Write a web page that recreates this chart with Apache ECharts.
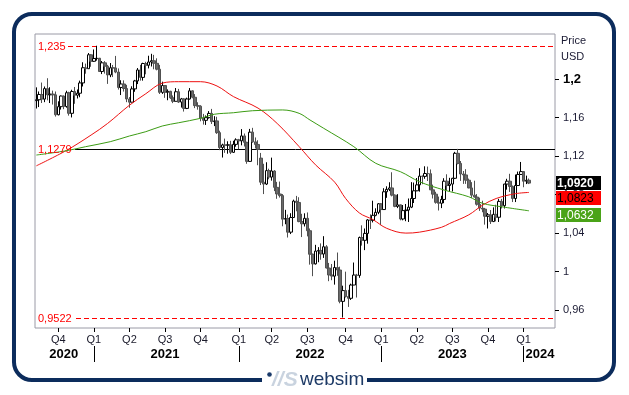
<!DOCTYPE html>
<html>
<head>
<meta charset="utf-8">
<script src="https://cdn.jsdelivr.net/npm/echarts@6/dist/echarts.min.js"></script>
<style>html,body{margin:0;padding:0;background:#fff;}#c{width:629px;height:395px;}</style>
</head>
<body>
<div id="c"></div>
<script>
// ---- data (weekly EUR/USD candles, week starting 2020-08-03) ----
const weekOpen = [1.1778,1.1787,1.1842,1.1794,1.1903,1.1838,1.1846,1.1838,1.1631,1.1715,1.1826,1.1717,1.1860,1.1646,1.1873,1.1834,1.1855,1.1962,1.2120,1.2110,1.2255,1.2187,1.2216,1.2219,1.2081,1.2171,1.2136,1.2045,1.2119,1.2118,1.2075,1.1915,1.1951,1.1904,1.1795,1.1762,1.1900,1.1983,1.2097,1.2020,1.2164,1.2146,1.2180,1.2193,1.2166,1.2105,1.1864,1.1935,1.1865,1.1875,1.1807,1.1771,1.1870,1.1763,1.1796,1.1697,1.1795,1.1880,1.1813,1.1726,1.1720,1.1596,1.1573,1.1601,1.1645,1.1560,1.1567,1.1445,1.1290,1.1317,1.1315,1.1318,1.1240,1.1323,1.1370,1.1360,1.1411,1.1344,1.1146,1.1450,1.1349,1.1322,1.1180,1.0930,1.0910,1.1050,1.0983,1.1046,1.0876,1.0807,1.0790,1.0545,1.0552,1.0410,1.0562,1.0733,1.0719,1.0520,1.0497,1.0554,1.0425,1.0180,1.0080,1.0213,1.0220,1.0183,1.0258,1.0037,0.9964,0.9953,1.0042,1.0016,0.9690,0.9802,0.9740,0.9722,0.9860,0.9964,0.9960,1.0354,1.0325,1.0397,1.0537,1.0533,1.0585,1.0616,1.0705,1.0645,1.0830,1.0855,1.0870,1.0795,1.0678,1.0694,1.0547,1.0634,1.0640,1.0670,1.0760,1.0840,1.0902,1.0993,1.0990,1.1020,1.1018,1.0850,1.0805,1.0720,1.0710,1.0750,1.0940,1.0895,1.0910,1.0970,1.1230,1.1125,1.1015,1.1005,1.0950,1.0870,1.0795,1.0775,1.0700,1.0660,1.0650,1.0575,1.0590,1.0520,1.0595,1.0565,1.0730,1.0685,1.0910,1.0940,1.0885,1.0760,1.0895,1.1010,1.1040,1.0940,1.0950];
const weekClose = [1.1787,1.1842,1.1794,1.1903,1.1838,1.1846,1.1838,1.1631,1.1715,1.1826,1.1717,1.1860,1.1646,1.1873,1.1834,1.1855,1.1962,1.2120,1.2110,1.2255,1.2187,1.2216,1.2219,1.2081,1.2171,1.2136,1.2045,1.2119,1.2118,1.2075,1.1915,1.1951,1.1904,1.1795,1.1762,1.1900,1.1983,1.2097,1.2020,1.2164,1.2146,1.2180,1.2193,1.2166,1.2105,1.1864,1.1935,1.1865,1.1875,1.1807,1.1771,1.1870,1.1763,1.1796,1.1697,1.1795,1.1880,1.1813,1.1726,1.1720,1.1596,1.1573,1.1601,1.1645,1.1560,1.1567,1.1445,1.1290,1.1317,1.1315,1.1318,1.1240,1.1323,1.1370,1.1360,1.1411,1.1344,1.1146,1.1450,1.1349,1.1322,1.1270,1.0930,1.0910,1.1050,1.0983,1.1046,1.0876,1.0807,1.0790,1.0545,1.0552,1.0410,1.0562,1.0733,1.0719,1.0520,1.0497,1.0554,1.0425,1.0180,1.0080,1.0213,1.0220,1.0183,1.0258,1.0037,0.9964,0.9953,1.0042,1.0016,0.9690,0.9802,0.9740,0.9722,0.9860,0.9964,0.9960,1.0354,1.0325,1.0397,1.0537,1.0533,1.0585,1.0616,1.0705,1.0645,1.0830,1.0855,1.0870,1.0795,1.0678,1.0694,1.0547,1.0634,1.0640,1.0670,1.0760,1.0840,1.0902,1.0993,1.0990,1.1020,1.1018,1.0850,1.0805,1.0720,1.0710,1.0750,1.0940,1.0895,1.0910,1.0970,1.1230,1.1125,1.1015,1.1005,1.0950,1.0870,1.0795,1.0775,1.0700,1.0660,1.0650,1.0575,1.0590,1.0520,1.0595,1.0565,1.0730,1.0685,1.0910,1.0940,1.0885,1.0760,1.0895,1.1010,1.1040,1.0940,1.0950,1.0920];
const weekLow = [1.1696,1.1711,1.1753,1.1762,1.1781,1.1753,1.1737,1.1612,1.1625,1.1685,1.1689,1.1705,1.1622,1.1603,1.1745,1.1800,1.1813,1.1925,1.2058,1.2110,1.2130,1.2180,1.2194,1.2076,1.2054,1.2059,1.1952,1.2022,1.2023,1.2063,1.1893,1.1836,1.1872,1.1762,1.1704,1.1760,1.1870,1.1950,1.1986,1.1986,1.2052,1.2113,1.2133,1.2104,1.2093,1.1847,1.1848,1.1807,1.1782,1.1796,1.1752,1.1770,1.1754,1.1706,1.1664,1.1690,1.1790,1.1802,1.1700,1.1684,1.1563,1.1529,1.1525,1.1591,1.1535,1.1513,1.1432,1.1263,1.1186,1.1235,1.1226,1.1222,1.1234,1.1299,1.1272,1.1313,1.1301,1.1121,1.1140,1.1340,1.1280,1.1106,1.0900,1.0806,1.0900,1.0960,1.0946,1.0837,1.0757,1.0770,1.0471,1.0492,1.0354,1.0390,1.0558,1.0627,1.0513,1.0359,1.0469,1.0366,1.0072,0.9952,1.0073,1.0097,1.0123,1.0142,1.0033,0.9900,0.9910,0.9864,0.9956,0.9670,0.9522,0.9730,0.9632,0.9705,0.9858,0.9730,0.9935,1.0270,1.0223,1.0290,1.0443,1.0511,1.0575,1.0597,1.0483,1.0643,1.0767,1.0837,1.0782,1.0669,1.0660,1.0533,1.0533,1.0524,1.0516,1.0660,1.0713,1.0836,1.0831,1.0909,1.0965,1.0942,1.0848,1.0760,1.0706,1.0635,1.0660,1.0711,1.0844,1.0834,1.0833,1.0962,1.1115,1.0943,1.0912,1.0912,1.0866,1.0766,1.0770,1.0686,1.0631,1.0617,1.0488,1.0448,1.0495,1.0515,1.0522,1.0516,1.0656,1.0656,1.0852,1.0828,1.0723,1.0723,1.0890,1.1005,1.0877,1.0910,1.0910];
const weekHigh = [1.1916,1.1873,1.1966,1.1925,1.2011,1.1917,1.1882,1.1873,1.1771,1.1831,1.1830,1.1881,1.1870,1.1891,1.1920,1.1894,1.1986,1.2177,1.2163,1.2273,1.2262,1.2310,1.2349,1.2222,1.2190,1.2189,1.2150,1.2169,1.2149,1.2243,1.2113,1.1990,1.1989,1.1942,1.1815,1.1927,1.1994,1.2117,1.2150,1.2172,1.2182,1.2245,1.2265,1.2254,1.2218,1.2150,1.1975,1.1940,1.1895,1.1880,1.1832,1.1909,1.1900,1.1806,1.1804,1.1809,1.1909,1.1885,1.1846,1.1761,1.1730,1.1640,1.1624,1.1669,1.1692,1.1616,1.1610,1.1465,1.1330,1.1383,1.1355,1.1360,1.1360,1.1386,1.1380,1.1482,1.1436,1.1350,1.1484,1.1495,1.1395,1.1366,1.1234,1.1121,1.1137,1.1070,1.1185,1.1055,1.0933,1.0936,1.0806,1.0642,1.0593,1.0607,1.0748,1.0787,1.0773,1.0601,1.0606,1.0615,1.0448,1.0187,1.0278,1.0254,1.0293,1.0368,1.0275,1.0090,1.0079,1.0113,1.0198,1.0051,0.9853,0.9999,0.9810,0.9874,1.0094,0.9976,1.0364,1.0481,1.0448,1.0545,1.0595,1.0737,1.0658,1.0713,1.0713,1.0867,1.0887,1.0929,1.1033,1.0803,1.0805,1.0696,1.0692,1.0703,1.0760,1.0930,1.0926,1.0973,1.1075,1.0998,1.1095,1.1092,1.1062,1.0904,1.0830,1.0780,1.0788,1.0971,1.1012,1.0975,1.0975,1.1245,1.1276,1.1150,1.1046,1.1065,1.0967,1.0930,1.0945,1.0806,1.0769,1.0737,1.0662,1.0609,1.0640,1.0668,1.0695,1.0756,1.0756,1.0913,1.0965,1.1017,1.0895,1.1009,1.1040,1.1140,1.1046,1.0998,1.0968];
// moving averages: [week index, value]
const maRed = [[0,1.110],[11,1.126],[20,1.142],[26,1.154],[34,1.173],[40,1.185],[46,1.196],[52,1.1975],[60,1.1975],[66,1.193],[72,1.182],[81,1.170],[88,1.154],[96,1.130],[102,1.111],[109,1.093],[113,1.076],[118,1.061],[123,1.054],[128,1.045],[135,1.040],[140,1.041],[148,1.046],[151,1.050],[158,1.059],[163,1.069],[168,1.076],[175,1.081],[180,1.0823]];
const maGreen = [[0,1.1212],[11,1.1257],[18,1.1299],[27,1.1351],[34,1.1410],[40,1.1455],[46,1.1514],[52,1.1548],[60,1.1594],[65,1.1636],[72,1.1652],[79,1.1673],[90,1.1681],[96,1.1646],[100,1.1576],[105,1.1490],[116,1.1299],[124,1.1126],[133,1.1039],[140,1.0934],[149,1.0848],[158,1.0778],[163,1.0710],[170,1.0674],[180,1.0632]];
const refLevels = [1.235, 1.1279, 0.9522];
const yTickValues = [0.96, 1.0, 1.04, 1.08, 1.12, 1.16, 1.2];
const yearLabels = ['2020','2021','2022','2023','2024'];
const lastPrice = 1.0920, lastRed = 1.0823, lastGreen = 1.0632;

// ---- categories: weeks ----
const N = 190;
const DAY = 864e5;
const start = Date.UTC(2020,7,3);
const categories = [];
for (let i = 0; i < N; i++) categories.push(new Date(start + i*7*DAY).toISOString().slice(0,10));

const fri0 = start + 4*DAY;
const qLabel = {}; const yearSep = [];
for (let y = 2020; y <= 2024; y++) for (let q = 0; q < 4; q++) {
  const s = Date.UTC(y, q*3, 1);
  const i = Math.ceil((s - fri0) / (7*DAY));
  if (i >= 1 && i < N) { qLabel[i] = 'Q' + (q+1); if (q === 0) yearSep.push(i); }
}
const yearAt = {};
yearLabels.forEach((t, k) => {
  const left = k === 0 ? -0.5 : yearSep[k-1];
  const right = k < yearSep.length ? yearSep[k] : N - 0.5;
  yearAt[Math.floor((left + right) / 2 + 0.3)] = t;
});
const sepSet = new Set(yearSep);

const candles = weekOpen.map((o, i) => [o, weekClose[i], weekLow[i], weekHigh[i]]);
const fmt = v => String(v).replace('.', ',');
const FONT = '"Liberation Sans", Arial, sans-serif';
const RED = '#ff0000';

const chart = echarts.init(document.getElementById('c'), null, {renderer: 'canvas'});
const option = {
  animation: false,
  backgroundColor: '#fff',
  textStyle: {fontFamily: FONT},
  grid: {left: 35, top: 34, right: 74, bottom: 67, show: true, borderColor: '#9a9aa6', borderWidth: 1, backgroundColor: 'transparent'},
  xAxis: [{
    type: 'category', data: categories, boundaryGap: true,
    axisLine: {show: false},
    axisTick: {show: true, alignWithLabel: true, length: 4, interval: i => qLabel[i] !== undefined, lineStyle: {color: '#000'}},
    axisLabel: {interval: i => qLabel[i] !== undefined, formatter: (v, i) => qLabel[i] || '', margin: 6, fontSize: 11, color: '#1a1a2a', fontFamily: FONT},
    splitLine: {show: false}
  }, {
    type: 'category', data: categories, boundaryGap: true, position: 'bottom', offset: 18,
    axisLine: {show: false},
    axisTick: {show: true, alignWithLabel: true, length: 16, interval: i => sepSet.has(i), lineStyle: {color: '#000', width: 1}},
    axisLabel: {interval: i => yearAt[i] !== undefined, formatter: (v, i) => yearAt[i] || '', margin: 2, fontSize: 13, fontWeight: 'bold', color: '#000', fontFamily: FONT},
    splitLine: {show: false}
  }],
  yAxis: {
    type: 'value', position: 'right', min: 0.9413, max: 1.2471,
    splitLine: {show: false}, axisLine: {show: false},
    axisTick: {show: true, length: 4, customValues: yTickValues, lineStyle: {color: '#000'}},
    axisLabel: {customValues: yTickValues, margin: 8, fontSize: 11, color: '#1a1a33', fontFamily: FONT,
      formatter: v => Math.abs(v - 1.2) < 1e-9 ? '{b|1,2}' : fmt(+v.toFixed(2)),
      rich: {b: {fontSize: 13, fontWeight: 'bold', color: '#000', fontFamily: FONT}}}
  },
  series: [{
    type: 'candlestick', data: candles, barWidth: 3,
    itemStyle: {color: '#ffffff', color0: '#6a6a6a', borderColor: '#000000', borderColor0: '#505050', borderWidth: 1},
    z: 3
  }, {
    type: 'line', data: maRed, symbol: 'none', smooth: 0.35, lineStyle: {color: '#ee1111', width: 1}, z: 4
  }, {
    type: 'line', data: maGreen, symbol: 'none', smooth: 0.35, lineStyle: {color: '#3c9c14', width: 1}, z: 4
  }]
};
chart.setOption(option);

// ---- annotations positioned through the axes ----
const py = v => chart.convertToPixel({yAxisIndex: 0}, v);
const crisp = v => Math.round(py(v)) + 0.5;
const g = [];
refLevels.forEach((v, k) => {
  const y = crisp(v);
  g.push({type: 'line', shape: {x1: 36, y1: y, x2: 555, y2: y}, style: {stroke: k === 1 ? '#000' : RED, lineWidth: 1, lineDash: k === 1 ? null : [5, 3]}, z: 1, silent: true});
  // white gap behind the label on the level line only
  g.push({type: 'rect', shape: {x: 36, y: y - 1.5, width: k === 0 ? 30 : 39, height: 3}, style: {fill: '#fff'}, z: 2, silent: true});
});
g.push({type: 'rect', shape: {x: 14, y: 14, width: 600, height: 366, r: 18}, style: {fill: 'none', stroke: '#0c2c5c', lineWidth: 4}, z: 100});
g.push({type: 'rect', shape: {x: 262, y: 374, width: 105, height: 12}, style: {fill: '#fff'}, z: 101});
g.push({type: 'circle', shape: {cx: 269.5, cy: 374.5, r: 2.3}, style: {fill: '#1a3a6a'}, z: 102});
g.push({type: 'text', style: {text: '//S', x: 272, y: 380, font: 'italic bold 21px ' + FONT, fill: '#c9d3df', textVerticalAlign: 'middle', verticalAlign: 'middle'}, z: 102});
g.push({type: 'text', style: {text: 'websim', x: 300, y: 380, font: '19px ' + FONT, fill: '#1d3a66', textVerticalAlign: 'middle', verticalAlign: 'middle'}, z: 102});
g.push({type: 'text', style: {text: 'Price', x: 561, y: 41, font: '11px ' + FONT, fill: '#1a1a33', textVerticalAlign: 'middle', verticalAlign: 'middle'}, z: 50});
g.push({type: 'text', style: {text: 'USD', x: 561, y: 57, font: '11px ' + FONT, fill: '#1a1a33', textVerticalAlign: 'middle', verticalAlign: 'middle'}, z: 50});
refLevels.forEach(v => {
  g.push({type: 'text', style: {text: fmt(v), x: 38, y: crisp(v), font: '11px ' + FONT, fill: RED, textVerticalAlign: 'middle', verticalAlign: 'middle'}, z: 60});
});
const tags = [
  {v: lastPrice, bg: '#000000', fg: '#ffffff', bold: true},
  {v: lastRed, bg: '#ff0000', fg: '#000000', bold: false},
  {v: lastGreen, bg: '#4aa318', fg: '#ffffff', bold: false}
];
let prevBottom = -1e9;
tags.forEach((t, k) => {
  const h = 14;
  let top = Math.round(Math.max(py(t.v) - h/2, prevBottom + (k === 2 ? 3 : 1)));
  prevBottom = top + h;
  g.push({type: 'rect', shape: {x: 556, y: top, width: 45, height: h}, style: {fill: t.bg}, z: 70});
  g.push({type: 'text', style: {text: fmt(t.v.toFixed(4)), x: 557, y: top + h/2 + 0.5, font: (t.bold ? 'bold ' : '') + '12px ' + FONT, fill: t.fg, textVerticalAlign: 'middle', verticalAlign: 'middle'}, z: 71});
});
chart.setOption({graphic: {elements: g}});
</script>
</body>
</html>
